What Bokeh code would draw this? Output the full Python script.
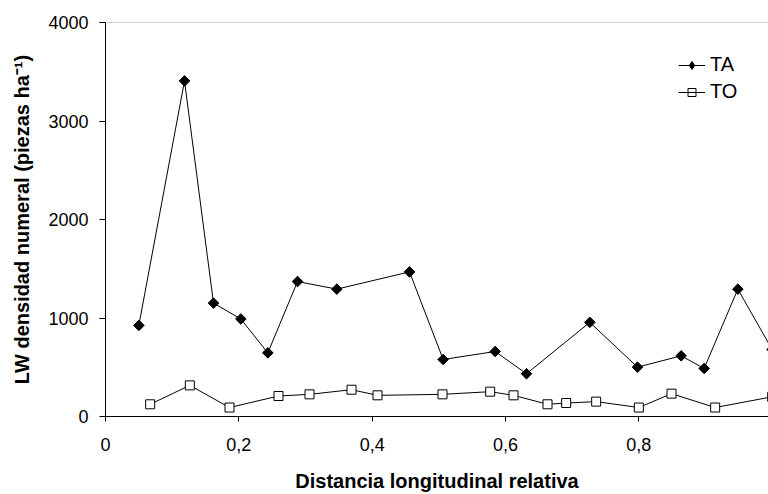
import numpy as np
from bokeh.plotting import figure
from bokeh.models import FixedTicker, CustomJSTickFormatter, Span, Legend, LegendItem, Range1d
from bokeh.embed import file_html
from bokeh.resources import INLINE

# --- data ---
ta_x = [0.050, 0.1185, 0.162, 0.203, 0.2435, 0.288, 0.347, 0.456, 0.5065, 0.5845,
        0.6315, 0.7265, 0.798, 0.8635, 0.898, 0.9485, 1.0]
ta_y = [925, 3407, 1151, 990, 646, 1370, 1293, 1468, 579, 660,
        434, 956, 501, 616, 488, 1293, 680]
to_x = [0.067, 0.1265, 0.186, 0.2595, 0.306, 0.369, 0.408, 0.5055, 0.577, 0.612,
        0.663, 0.691, 0.736, 0.800, 0.849, 0.9145, 1.0]
to_y = [124, 316, 91, 208, 225, 272, 215, 225, 252, 215,
        124, 137, 151, 91, 232, 91, 200]
x_ticks = [0, 0.2, 0.4, 0.6, 0.8, 1.0]
y_ticks = [0, 1000, 2000, 3000, 4000]
series_names = ["TA", "TO"]

FONT = "Liberation Sans"

p = figure(width=768, height=494, output_backend="svg", toolbar_location=None,
           x_range=Range1d(0, 0.9945), y_range=Range1d(0, 4000),
           min_border_left=105, min_border_right=0, min_border_top=22, min_border_bottom=77)
p.outline_line_color = None
p.xgrid.visible = False
p.ygrid.visible = False
p.background_fill_color = "white"
p.border_fill_color = "white"

# top gray line at 4000
p.add_layout(Span(location=4000, dimension="width", line_color="#a0a0a0", line_width=1))

l1 = p.line(ta_x, ta_y, line_color="black", line_width=1)
s1 = p.scatter(ta_x, ta_y, marker="square", size=7.5, angle=np.pi / 4,
               fill_color="black", line_color="black")
l2 = p.line(to_x, to_y, line_color="black", line_width=1)
s2 = p.scatter(to_x, to_y, marker="square", size=9, fill_color="white",
               line_color="black", line_width=1)

# legend-only glyphs (kept outside the visible range)
ll1 = p.line([-1, -1], [0, 0], line_color="black", line_width=1)
ls1 = p.scatter([-1], [0], marker="diamond", size=10, fill_color="black", line_color="black")
ll2 = p.line([-1, -1], [0, 0], line_color="black", line_width=1)
ls2 = p.scatter([-1], [0], marker="square", size=7, fill_alpha=0, line_color="black")

legend = Legend(items=[LegendItem(label=series_names[0], renderers=[ll1, ls1]),
                       LegendItem(label=series_names[1], renderers=[ll2, ls2])],
                location=(573, 313), orientation="vertical")
legend.border_line_color = None
legend.background_fill_alpha = 0
legend.padding = 0
legend.margin = 0
legend.spacing = 4
legend.label_height = 20
legend.glyph_height = 20
legend.glyph_width = 27
legend.label_standoff = 5
legend.label_text_font = FONT
legend.label_text_font_size = "20px"
legend.label_text_color = "black"
p.add_layout(legend, "center")

for ax in (p.xaxis[0], p.yaxis[0]):
    ax.axis_line_color = "black"
    ax.major_tick_line_color = "black"
    ax.minor_tick_line_color = None
    ax.major_tick_in = 0
    ax.major_label_text_font = FONT
    ax.major_label_text_font_size = "18px"
    ax.major_label_text_color = "black"
    ax.axis_label_text_font = FONT
    ax.axis_label_text_font_style = "bold"
    ax.axis_label_text_font_size = "20px"
    ax.axis_label_text_color = "black"

p.xaxis.ticker = FixedTicker(ticks=x_ticks)
p.xaxis.formatter = CustomJSTickFormatter(
    code="return tick === 0 ? '0' : (Math.round(tick*10)/10).toString().replace('.', ',');")
p.xaxis.major_tick_out = 5
p.xaxis.major_label_standoff = 16
p.xaxis.axis_label = "Distancia longitudinal relativa"
p.xaxis.axis_label_standoff = 16

p.yaxis.ticker = FixedTicker(ticks=y_ticks)
p.yaxis.major_tick_out = 6
p.yaxis.major_label_standoff = 11
p.yaxis.axis_label = "LW densidad numeral (piezas ha\u207b\u00b9)"
p.yaxis.axis_label_standoff = 12

open("out.html", "w").write(file_html(p, INLINE))
